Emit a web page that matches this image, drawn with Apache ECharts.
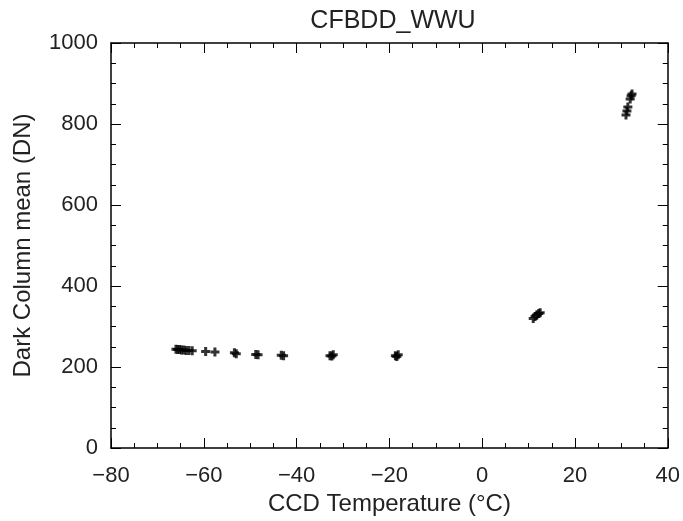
<!DOCTYPE html>
<html>
<head>
<meta charset="utf-8">
<script src="https://cdn.jsdelivr.net/npm/echarts@6/dist/echarts.min.js"></script>
<style>
  html, body { margin: 0; padding: 0; background: #fff; }
  #chart { width: 683px; height: 521px; }
</style>
</head>
<body>
<div id="chart"></div>
<script>
// CCD temperature (°C) of each frame
const temperature = [
  -66.0, -65.6, -65.2, -64.8, -64.3, -63.8, -63.2, -62.5,
  -59.6, -57.6,
  -53.4, -53.0,
  -48.8, -48.3,
  -43.3, -42.8,
  -32.8, -32.4, -32.1,
  -18.7, -18.4, -18.1,
  11.0, 11.4, 11.8, 12.2, 12.5,
  31.0, 31.2, 31.4, 31.9, 32.1, 32.3
];
// Dark column mean (DN) of each frame
const darkMean = [
  244, 243, 243, 242, 242, 241, 241, 240,
  238, 237,
  235, 233,
  231, 230,
  229, 228,
  228, 227, 230,
  228, 226, 230,
  320, 325, 329, 332, 334,
  822, 832, 842, 862, 870, 874
];

const xTicks = { min: -80, max: 40, step: 20 };
const yTicks = { min: 0, max: 1000, step: 200 };

const points = temperature.map((t, i) => [t, darkMean[i]]);

const font = 'Liberation Sans';
const ink = '#000';
const textInk = '#222';
// bold plus marker
const plusSymbol = 'path://M-1.5,-4.5H1.5V-1.5H4.5V1.5H1.5V4.5H-1.5V1.5H-4.5V-1.5H-1.5Z';

// plain numbers with a true minus sign, no thousands separator
const tickText = v => (v < 0 ? '\u2212' : '') + String(Math.abs(v));

function boxAxis(base, showLabels, position, margin) {
  return Object.assign({
    type: 'value',
    position: position,
    axisLine: { show: true, onZero: false, lineStyle: { color: ink, width: 1.5 } },
    axisTick: { show: true, inside: true, length: 10, lineStyle: { color: ink, width: 1 } },
    minorTick: { show: true, splitNumber: 4, length: 5, lineStyle: { color: ink, width: 1 } },
    splitLine: { show: false },
    axisLabel: showLabels
      ? { show: true, color: textInk, fontFamily: font, fontSize: 22, margin: margin, formatter: tickText }
      : { show: false }
  }, base);
}

const chart = echarts.init(document.getElementById('chart'), null, { renderer: 'canvas' });
chart.setOption({
  backgroundColor: '#fff',
  animation: false,
  title: {
    text: 'CFBDD_WWU',
    left: 388, top: 4, textAlign: 'center',
    textStyle: { color: textInk, fontFamily: font, fontSize: 25, fontWeight: 'normal' }
  },
  grid: { left: 111, right: 15, top: 43, bottom: 71 },
  xAxis: [
    boxAxis({
      min: xTicks.min, max: xTicks.max, interval: xTicks.step,
      name: 'CCD Temperature (°C)', nameLocation: 'middle', nameGap: 44,
      nameTextStyle: { color: textInk, fontFamily: font, fontSize: 24 }
    }, true, 'bottom', 17),
    boxAxis({ min: xTicks.min, max: xTicks.max, interval: xTicks.step }, false, 'top')
  ],
  yAxis: [
    boxAxis({
      min: yTicks.min, max: yTicks.max, interval: yTicks.step,
      name: 'Dark Column mean (DN)', nameLocation: 'middle', nameGap: 76,
      nameTextStyle: { color: textInk, fontFamily: font, fontSize: 24 }
    }, true, 'left', 13),
    boxAxis({ min: yTicks.min, max: yTicks.max, interval: yTicks.step }, false, 'right')
  ],
  series: [{
    type: 'scatter',
    xAxisIndex: 0, yAxisIndex: 0,
    data: points,
    symbol: plusSymbol,
    symbolSize: 9,
    itemStyle: { color: ink },
    emphasis: { disabled: true }
  }]
});
</script>
</body>
</html>
